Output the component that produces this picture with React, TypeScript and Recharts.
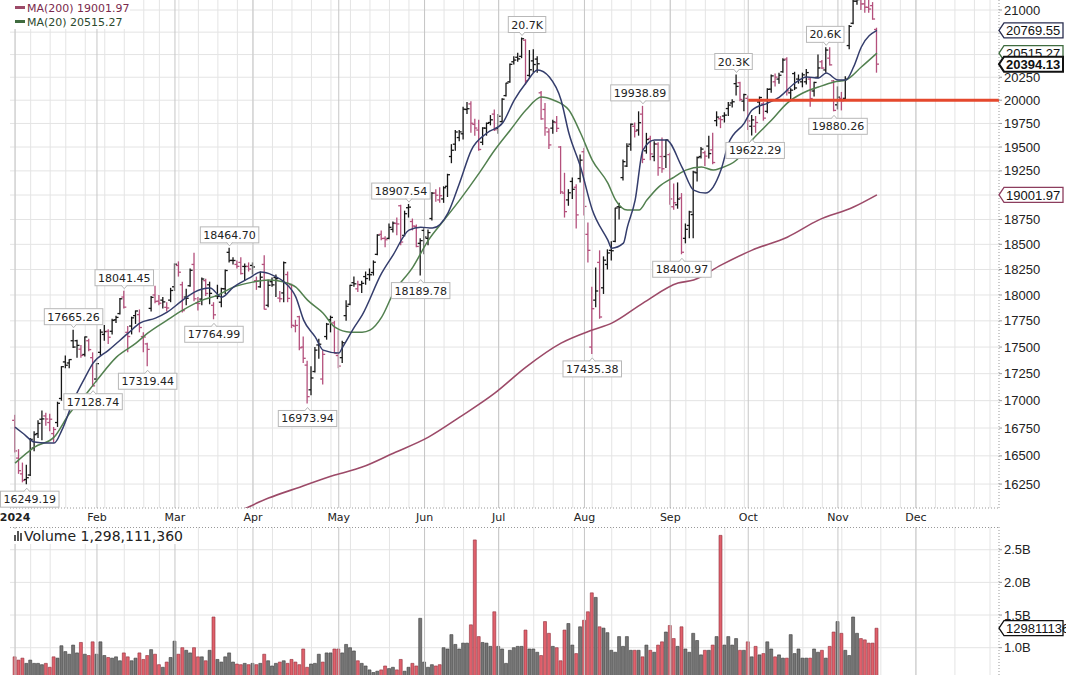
import React from 'react';
import { ComposedChart, Bar, Line, XAxis, YAxis, CartesianGrid, ReferenceLine, ReferenceDot, Cell } from 'recharts';

// x = trading-day index, 0 = Jan 2 2024
const monthStarts = [0, 21, 41, 61, 83, 105, 124, 146, 168, 188, 211, 231];
const monthLabels = ['2024', 'Feb', 'Mar', 'Apr', 'May', 'Jun', 'Jul', 'Aug', 'Sep', 'Oct', 'Nov', 'Dec'];
const weekStarts = [0, 4, 9, 13, 18, 23, 28, 33, 37, 42, 47, 52, 57, 61, 66, 71, 76, 81, 86, 91, 96, 101, 105, 110, 115, 119, 124, 128, 133, 138, 143, 148, 153, 158, 163, 168, 172, 177, 182, 187, 192, 197, 202, 207, 212, 217, 222, 227, 231, 236, 241, 246, 250];
const priceTicks = [16250, 16500, 16750, 17000, 17250, 17500, 17750, 18000, 18250, 18500, 18750, 19250, 19500, 19750, 20000, 20250, 21000];
const priceGrid = [16250, 16500, 16750, 17000, 17250, 17500, 17750, 18000, 18250, 18500, 18750, 19000, 19250, 19500, 19750, 20000, 20250, 20500, 20750, 21000];
const volumeTicks = [1000, 1500, 2000, 2500];
const volumeGrid = [500, 1000, 1500, 2000, 2500];

const opens = [
  16820, 16480, 16340, 16290, 16330, 16570, 16700, 16830, 16860, 16800,
  16700, 16800, 17020, 17360, 17350, 17560, 17560, 17480, 17430, 17560,
  17400, 17200, 17450, 17620, 17650, 17650, 17760, 17820, 17980, 17640,
  17700, 17800, 17810, 17600, 17530, 17870, 18000, 17940, 17950, 17880,
  17950, 18080, 18290, 18100, 17980, 18090, 18300, 17920, 17960, 18140,
  18100, 17900, 17990, 17930, 18060, 18420, 18340, 18300, 18320, 18280,
  18280, 18290, 18140, 18080, 18300, 17900, 18130, 18170, 17970, 18020,
  18200, 18100, 17700, 17790, 17500, 17330, 17100, 17270, 17520, 17200,
  17600, 17760, 17730, 17420, 17400, 17800, 17910, 18120, 18060, 18100,
  18180, 18200, 18220, 18400, 18600, 18560, 18560, 18650, 18710, 18890,
  18590, 18870, 18730, 18680, 18510, 18640, 18560, 18760, 19020, 18950,
  18960, 19090, 19400, 19530, 19600, 19640, 19900, 19960, 19740, 19680,
  19550, 19700, 19760, 19850, 19700, 19770, 20050, 20200, 20420, 20470,
  20480, 20660, 20270, 20430, 20450, 20080, 19900, 19660, 19700, 19760,
  19500, 19020, 18950, 19140, 19080, 19170, 19450, 18600, 17500, 17950,
  18320, 18070, 18300, 18440, 18530, 18880, 19180, 19300, 19530, 19720,
  19680, 19850, 19460, 19590, 19400, 19530, 19400, 19400, 19420, 18880,
  18900, 18970, 18560, 18690, 18800, 19230, 19400, 19440, 19510, 19470,
  19780, 19800, 19830, 19910, 19970, 20180, 20190, 19990, 20020, 19720,
  19720, 19980, 19960, 19880, 20120, 20200, 20230, 20310, 20450, 20080,
  20290, 20230, 20200, 20200, 20230, 20100, 20250, 20420, 20330, 20460,
  20210, 19950, 20020, 20020, 20600, 20850, 21100, 21150, 21070, 21030,
  21050, 20780,
];
const highs = [
  16870, 16560, 16440, 16420, 16660, 16720, 16820, 16910, 16890, 16880,
  16760, 16990, 17320, 17420, 17385, 17665, 17570, 17520, 17600, 17580,
  17450, 17350, 17670, 17710, 17670, 17770, 17800, 17970, 18041, 17700,
  17790, 17850, 17860, 17640, 17540, 17990, 18090, 18000, 17980, 17930,
  18070, 18310, 18330, 18130, 18060, 18260, 18416, 17980, 18170, 18160,
  18130, 17930, 18100, 18070, 18250, 18465, 18370, 18340, 18370, 18310,
  18320, 18320, 18180, 18230, 18390, 18150, 18170, 18200, 18040, 18330,
  18230, 18110, 17760, 17800, 17600, 17370, 17320, 17500, 17580, 17470,
  17730, 17800, 17750, 17660, 17560, 17950, 18100, 18180, 18140, 18140,
  18230, 18260, 18340, 18600, 18640, 18580, 18710, 18730, 18770, 18900,
  18840, 18908, 18760, 18700, 18560, 18670, 18650, 19030, 19060, 19080,
  19090, 19220, 19530, 19680, 19680, 19930, 19980, 19990, 19800, 19790,
  19710, 19760, 19840, 19900, 19850, 20020, 20190, 20400, 20480, 20520,
  20690, 20670, 20550, 20560, 20480, 20100, 19970, 19700, 19790, 19830,
  19510, 19230, 19060, 19180, 19110, 19420, 19490, 18720, 18080, 18270,
  18440, 18380, 18450, 18530, 18870, 18920, 19370, 19540, 19750, 19760,
  19880, 19939, 19650, 19620, 19560, 19550, 19600, 19580, 19440, 19120,
  19130, 19020, 18710, 18840, 19250, 19400, 19500, 19460, 19620, 19650,
  19880, 19830, 19870, 19980, 20010, 20280, 20200, 20070, 20050, 19840,
  19830, 20040, 19980, 20130, 20280, 20290, 20300, 20460, 20470, 20130,
  20310, 20280, 20300, 20340, 20250, 20200, 20500, 20440, 20580, 20580,
  20220, 20150, 20090, 20260, 20830, 21120, 21170, 21180, 21140, 21120,
  21090, 20800,
];
const lows = [
  16530, 16340, 16265, 16249, 16320, 16540, 16660, 16640, 16770, 16720,
  16620, 16760, 17000, 17300, 17300, 17490, 17400, 17400, 17410, 17460,
  17129, 17170, 17420, 17560, 17530, 17620, 17730, 17810, 17870, 17450,
  17620, 17720, 17640, 17450, 17319, 17840, 17920, 17900, 17870, 17840,
  17930, 18040, 18180, 17830, 17900, 18080, 17940, 17850, 17900, 17990,
  17910, 17765, 17960, 17880, 18010, 18320, 18300, 18260, 18200, 18140,
  18230, 18200, 18050, 18070, 17860, 17880, 18080, 17980, 17930, 17930,
  17930, 17680, 17640, 17470, 17350, 16974, 17050, 17260, 17390, 17150,
  17570, 17640, 17440, 17300, 17350, 17750, 17900, 18080, 18030, 18020,
  18100, 18140, 18190, 18390, 18540, 18470, 18550, 18620, 18590, 18490,
  18580, 18770, 18640, 18470, 18190, 18400, 18490, 18740, 18930, 18920,
  18920, 18980, 19330, 19460, 19560, 19580, 19850, 19650, 19620, 19460,
  19520, 19620, 19730, 19670, 19640, 19760, 20040, 20190, 20390, 20420,
  20460, 20170, 20250, 20300, 20300, 19790, 19620, 19480, 19640, 19660,
  19010, 18770, 18890, 18960, 18660, 19130, 18790, 18320, 17435, 17880,
  17770, 18010, 18250, 18340, 18520, 18750, 19150, 19290, 19460, 19600,
  19620, 19330, 19430, 19360, 19350, 19200, 19230, 19280, 18900, 18850,
  18860, 18401, 18510, 18560, 18560, 19140, 19380, 19300, 19380, 19320,
  19720, 19700, 19760, 19830, 19920, 20050, 19990, 19880, 19680, 19622,
  19650, 19850, 19780, 19860, 20080, 20150, 20180, 20300, 20050, 19990,
  20110, 20180, 20140, 20170, 19930, 20040, 20240, 20340, 20300, 20380,
  19880, 19900, 19890, 20010, 20560, 20840, 21060, 21000, 20970, 20970,
  20890, 20300,
];
const closes = [
  16544, 16368, 16282, 16306, 16648, 16690, 16792, 16833, 16832, 16830,
  16737, 16976, 17315, 17329, 17382, 17500, 17516, 17421, 17596, 17476,
  17137, 17344, 17642, 17647, 17593, 17754, 17783, 17963, 17882, 17600,
  17779, 17845, 17686, 17595, 17478, 17977, 17937, 17920, 17933, 17874,
  18044, 18302, 18223, 17848, 17968, 18242, 17963, 17917, 18156, 18015,
  18016, 17808, 17986, 18062, 18240, 18339, 18339, 18281, 18210, 18280,
  18254, 18275, 18137, 18174, 17862, 18095, 18099, 18160, 17963, 18317,
  17967, 17707, 17706, 17493, 17394, 17037, 17210, 17471, 17527, 17431,
  17718, 17783, 17440, 17321, 17541, 17891, 18094, 18109, 18102, 18114,
  18161, 18198, 18322, 18593, 18558, 18546, 18671, 18713, 18705, 18523,
  18809, 18876, 18684, 18479, 18537, 18573, 18618, 19019, 18998, 18993,
  19075, 19210, 19466, 19659, 19660, 19903, 19908, 19752, 19701, 19474,
  19701, 19751, 19789, 19683, 19827, 20011, 20186, 20392, 20439, 20452,
  20676, 20212, 20332, 20390, 20398, 19799, 19703, 19522, 19766, 19698,
  19032, 18830, 19023, 19059, 18797, 19362, 18883, 18440, 17867, 18039,
  17787, 18342, 18414, 18436, 18867, 18875, 19346, 19509, 19742, 19667,
  19758, 19370, 19579, 19427, 19532, 19283, 19272, 19575, 18960, 18921,
  18959, 18421, 18651, 18827, 19238, 19388, 19478, 19404, 19431, 19337,
  19818, 19791, 19839, 19947, 19983, 20150, 20008, 20061, 19777, 19788,
  19760, 20029, 19807, 20118, 20265, 20251, 20272, 20440, 20101, 20109,
  20133, 20225, 20276, 20301, 20018, 20193, 20352, 20351, 20550, 20386,
  19890, 20033, 19994, 20229, 20815, 21101, 21118, 21069, 21032, 21011,
  20898, 20394.13,
];
// volume in millions of shares
const volumes = [
  860, 810, 840, 760, 810, 760, 760, 740, 760, 700,
  860, 840, 1030, 940, 900, 1040, 920, 1080, 900, 880,
  1090, 900, 1090, 880, 850, 840, 860, 800, 920, 860,
  800, 840, 920, 820, 880, 970, 900, 740, 700, 780,
  850, 1100, 900, 1000, 960, 920, 1000, 860, 860, 800,
  960, 1470, 820, 780, 860, 920, 780, 750, 740, 760,
  740, 760, 740, 760, 900, 800, 720, 760, 780, 800,
  760, 820, 780, 740, 980, 700, 750, 760, 900, 780,
  920, 920, 980, 980, 920, 1050, 1000, 950, 800, 760,
  720, 660, 620, 640, 660, 720, 680, 700, 660, 820,
  640, 700, 760, 720, 1450, 780, 700, 740, 720, 740,
  1000, 980, 1200, 1050, 980, 1070, 1070, 1350, 2650, 1170,
  1080, 1070, 1020, 1550, 1020, 980, 760, 960, 1000, 1020,
  1020, 1270, 980, 980, 930, 880, 1400, 1220, 1020, 1000,
  800, 1270, 1370, 1040, 910, 1320, 1420, 1550, 1840, 1770,
  1320, 1300, 1230, 960, 930, 1170, 1020, 1170, 960, 960,
  960, 860, 1040, 960, 930, 1040, 1090, 1240, 1340, 1140,
  1020, 1320, 980, 930, 1220, 1110, 890, 960, 960, 1040,
  1170, 2720, 1040, 1170, 1040, 1140, 960, 960, 1090, 860,
  1020, 890, 910, 1090, 980, 860, 890, 840, 840, 1200,
  910, 980, 840, 840, 840, 980, 930, 960, 840, 1020,
  1240, 1400, 1220, 960, 880, 1470, 1220, 1140, 1120, 1070,
  1070, 1298.11136,
];

// moving averages at sample days
const ma10Idx = [0, 2, 5, 8, 10, 12, 15, 18, 20, 24, 29, 32, 36, 39, 43, 46, 50, 53, 56, 60, 63, 66, 69, 72, 74, 77, 79, 83, 84, 87, 89, 94, 97, 101, 104, 107, 111, 114, 117, 121, 125, 128, 131, 134, 137, 140, 142, 145, 148, 152, 153, 156, 157, 159, 161, 164, 167, 171, 174, 177, 179, 181, 183, 187, 189, 193, 196, 200, 203, 206, 208, 211, 213, 215, 217, 221];
const ma10Val = [16758, 16703, 16623, 16614, 16614, 16731, 17005, 17218, 17348, 17471, 17632, 17728, 17776, 17834, 17950, 18028, 18067, 17979, 18077, 18165, 18224, 18195, 18126, 17979, 17757, 17594, 17471, 17443, 17500, 17690, 17805, 18214, 18398, 18643, 18673, 18663, 18815, 19127, 19468, 19648, 19754, 20002, 20187, 20329, 20252, 20002, 19648, 19290, 18850, 18542, 18462, 18512, 18673, 18948, 19468, 19574, 19574, 19290, 19051, 19020, 19082, 19258, 19542, 19754, 19894, 19969, 20034, 20187, 20252, 20241, 20296, 20219, 20219, 20362, 20584, 20769.55];
const ma20Idx = [0, 5, 10, 14, 17, 21, 26, 31, 34, 39, 43, 48, 52, 56, 61, 65, 69, 72, 75, 79, 82, 86, 89, 91, 94, 97, 102, 106, 110, 114, 119, 123, 127, 131, 135, 138, 142, 145, 148, 152, 154, 157, 160, 162, 165, 169, 172, 176, 179, 181, 185, 189, 194, 198, 202, 206, 210, 213, 217, 221];
const ma20Val = [16435, 16578, 16668, 16885, 17005, 17190, 17405, 17537, 17632, 17757, 17853, 17950, 17999, 18077, 18126, 18146, 18126, 18077, 17950, 17824, 17690, 17642, 17642, 17661, 17786, 18018, 18274, 18542, 18744, 18948, 19227, 19468, 19680, 19894, 20034, 20002, 19894, 19648, 19363, 19123, 18948, 18846, 18846, 18948, 19082, 19186, 19258, 19290, 19258, 19279, 19363, 19574, 19786, 19969, 20078, 20143, 20198, 20219, 20362, 20515.27];
const ma200Idx = [58, 65, 73, 82, 89, 97, 106, 114, 123, 131, 140, 148, 153, 161, 170, 174, 181, 189, 198, 206, 215, 221];
const ma200Val = [16020, 16127, 16223, 16329, 16400, 16524, 16668, 16849, 17069, 17311, 17537, 17662, 17728, 17921, 18116, 18146, 18293, 18442, 18572, 18744, 18877, 19001.97];

// swing labels
const annIdx = [3, 15, 28, 20, 34, 55, 51, 75, 101, 104, 130, 161, 148, 171, 185, 189, 208, 210];
const annVal = [16249.19, 17665.26, 18041.45, 17128.74, 17319.44, 18464.7, 17764.99, 16973.94, 18907.54, 18189.78, 20690, 19938.89, 17435.38, 18400.97, 20280, 19622.29, 20580, 19880.26];
const annText = ['16249.19', '17665.26', '18041.45', '17128.74', '17319.44', '18464.70', '17764.99', '16973.94', '18907.54', '18189.78', '20.7K', '19938.89', '17435.38', '18400.97', '20.3K', '19622.29', '20.6K', '19880.26'];
const annBelow = [true, false, false, true, true, false, true, true, false, true, false, false, true, true, false, true, false, true];
const annDx = [3, 0, 0, 0, 0, 0, 0, 0, -8, 0, 5, -3, 0, 0, -3, 3, -1, 4];

// right-hand value tags
const tagValues = [19001.97, 20769.55, 20515.27, 20394.13];
const tagLabels = ['19001.97', '20769.55', '20515.27', '20394.13'];
const tagStroke = ['#8c3d5e', '#2a2e50', '#3f6b3f', '#111'];
const tagBold = [false, false, false, true];

const UP = '#161616';
const DOWN = '#b4507c';
const X_DOMAIN: [number, number] = [-1.3, 252.3];
const AXIS_FONT = 'Liberation Sans, Arial, sans-serif';
const LABEL_FONT = 'DejaVu Sans, Verdana, sans-serif';

const toMap = (idx: number[], val: number[]) => {
  const m: Record<number, number> = {};
  idx.forEach((k, j) => { m[k] = val[j]; });
  return m;
};
const m10 = toMap(ma10Idx, ma10Val);
const m20 = toMap(ma20Idx, ma20Val);
const m200 = toMap(ma200Idx, ma200Val);

const rows = closes.map((c, i) => ({
  i,
  o: opens[i],
  h: highs[i],
  l: lows[i],
  c,
  v: volumes[i],
  up: i === 0 ? c >= opens[i] : c >= closes[i - 1],
  ma10: m10[i] ?? null,
  ma20: m20[i] ?? null,
  ma200: m200[i] ?? null,
}));

const OhlcShape = (props: any) => {
  const { x, y, width, height, payload } = props;
  if (!payload || y == null || height == null) return null;
  const top = Math.min(y, y + height);
  const bot = Math.max(y, y + height);
  const lh = Math.log(payload.h);
  const ll = Math.log(payload.l);
  const pos = (v: number) => (lh === ll ? top : top + ((bot - top) * (lh - Math.log(v))) / (lh - ll));
  const cx = x + width / 2;
  return (
    <g stroke={payload.up ? UP : DOWN} strokeWidth={1.3}>
      <line x1={cx} x2={cx} y1={top} y2={bot} />
      <line x1={cx - 2.5} x2={cx} y1={pos(payload.o)} y2={pos(payload.o)} />
      <line x1={cx} x2={cx + 2.5} y1={pos(payload.c)} y2={pos(payload.c)} />
    </g>
  );
};

const MonthTick = (props: any) => {
  const { x, y, payload } = props;
  const k = monthStarts.indexOf(payload.value);
  return (
    <text x={x} y={y + 13} textAnchor="middle" fontSize={11} fontFamily={LABEL_FONT}
      fontWeight={k === 0 ? 'bold' : 'normal'} fill="#222">
      {monthLabels[k]}
    </text>
  );
};

const makeAnnotation = (text: string, below: boolean, dx: number) => (p: any) => {
  const { cx, cy } = p;
  const w = text.length * 7 - (text.includes('.') ? 3.5 : 0) + 6;
  const h = 16;
  const bx = cx + dx - w / 2;
  const by = below ? cy + 7 : cy - 5 - h;
  const notch = below
    ? `M${cx - 3},${by + 0.5} L${cx},${by - 3} L${cx + 3},${by + 0.5}`
    : `M${cx - 3},${by + h - 0.5} L${cx},${by + h + 3} L${cx + 3},${by + h - 0.5}`;
  return (
    <g>
      <rect x={bx} y={by} width={w} height={h} fill="#fff" stroke="#b8b8b8" />
      <path d={notch} fill="#fff" stroke="#b8b8b8" />
      <text x={bx + w / 2} y={by + 12} textAnchor="middle" fontSize={11} fontFamily={LABEL_FONT} fill="#222">
        {text}
      </text>
    </g>
  );
};

const makeTag = (label: string, stroke: string, bold: boolean) => (p: any) => {
  const { cx, cy } = p;
  const x0 = cx;
  return (
    <g>
      <path d={`M${x0},${cy} L${x0 + 5},${cy - 7.5} L${x0 + 64},${cy - 7.5} L${x0 + 64},${cy + 7.5} L${x0 + 5},${cy + 7.5} Z`}
        fill="#fff" stroke={stroke} strokeWidth={bold ? 2 : 1.3} />
      <text x={x0 + 7} y={cy + 5} fontSize={13} fontFamily={AXIS_FONT} fontWeight={bold ? 'bold' : 'normal'} fill="#111">
        {label}
      </text>
    </g>
  );
};

const PriceChart = () => (
  <ComposedChart width={1066} height={527} data={rows} margin={{ top: 0, right: 0, bottom: 0, left: 10 }}>
    <CartesianGrid stroke="#e4e4e4" verticalValues={weekStarts} horizontalValues={priceGrid} />
    {monthStarts.map((m) => (
      <ReferenceLine key={m} x={m} stroke="#c6c6c6" />
    ))}
    <XAxis dataKey="i" type="number" domain={X_DOMAIN} allowDataOverflow ticks={monthStarts} interval={0}
      tick={<MonthTick />} tickLine={false} tickSize={0} tickMargin={0} height={19}
      axisLine={{ stroke: '#999', strokeDasharray: '1 2' }} />
    <YAxis orientation="right" type="number" scale="log" domain={[16041, 21114]} allowDataOverflow
      ticks={priceTicks} interval={0} width={67} tickSize={3} tickMargin={2}
      tick={{ fill: '#222', fontSize: 13, fontFamily: AXIS_FONT }} tickLine={{ stroke: '#999' }}
      axisLine={{ stroke: '#999', strokeDasharray: '1 2' }} />
    <Line dataKey="ma200" type="monotone" stroke="#9c4a68" strokeWidth={1.6} dot={false} connectNulls isAnimationActive={false} />
    <Line dataKey="ma20" type="monotone" stroke="#52804f" strokeWidth={1.5} dot={false} connectNulls isAnimationActive={false} />
    <Line dataKey="ma10" type="monotone" stroke="#343d6c" strokeWidth={1.5} dot={false} connectNulls isAnimationActive={false} />
    <Bar dataKey={(d: any) => [d.l, d.h]} shape={OhlcShape} barSize={3} isAnimationActive={false} />
    <ReferenceLine segment={[{ x: 188, y: 20000 }, { x: X_DOMAIN[1], y: 20000 }]} stroke="#e5482d" strokeWidth={3} />
    {annIdx.map((k, j) => (
      <ReferenceDot key={`a${j}`} x={k} y={annVal[j]} r={2} ifOverflow="visible"
        shape={makeAnnotation(annText[j], annBelow[j], annDx[j])} />
    ))}
    {tagValues.map((v, j) => (
      <ReferenceDot key={`t${j}`} x={X_DOMAIN[1]} y={v} r={2} ifOverflow="visible"
        shape={makeTag(tagLabels[j], tagStroke[j], tagBold[j])} />
    ))}
  </ComposedChart>
);

const VolumeChart = () => (
  <ComposedChart width={1066} height={186} data={rows} margin={{ top: 0, right: 0, bottom: 0, left: 10 }}>
    <CartesianGrid stroke="#e4e4e4" verticalValues={weekStarts} horizontalValues={volumeGrid} />
    {monthStarts.map((m) => (
      <ReferenceLine key={m} x={m} stroke="#c6c6c6" />
    ))}
    <XAxis dataKey="i" type="number" domain={X_DOMAIN} allowDataOverflow hide />
    <YAxis orientation="right" type="number" domain={[0, 2848]} allowDataOverflow ticks={volumeTicks} interval={0}
      width={67} tickSize={3} tickMargin={2} tickFormatter={(v: number) => `${(v / 1000).toFixed(1)}B`}
      tick={{ fill: '#222', fontSize: 13, fontFamily: AXIS_FONT }} tickLine={{ stroke: '#999' }}
      axisLine={{ stroke: '#999', strokeDasharray: '1 2' }} />
    <Bar dataKey="v" barSize={3} isAnimationActive={false}>
      {rows.map((r) => (
        <Cell key={r.i} fill={r.up ? '#767676' : '#e0616c'} stroke={r.up ? '#3c3c3c' : '#8e2f3a'} strokeWidth={0.6} />
      ))}
    </Bar>
    <ReferenceDot x={X_DOMAIN[1]} y={volumes[volumes.length - 1]} r={2} ifOverflow="visible"
      shape={makeTag('1298111360', '#111', false)} />
  </ComposedChart>
);

export default function App() {
  return (
    <div style={{ position: 'absolute', top: 0, left: 0, width: 1066, height: 675, overflow: 'hidden', background: '#fff' }}>
      <div style={{ position: 'absolute', top: 0, left: 0 }}>
        <PriceChart />
      </div>
      <div style={{ position: 'absolute', top: 527, left: 0 }}>
        <VolumeChart />
      </div>
      <svg width={1066} height={675} style={{ position: 'absolute', top: 0, left: 0, pointerEvents: 'none' }}>
        <rect x={0} y={0} width={130} height={29} fill="#fff" />
        <line x1={15} x2={25} y1={7.5} y2={7.5} stroke="#9c4a68" strokeWidth={3} />
        <text x={27} y={11.5} fontSize={11} fontFamily={LABEL_FONT} fill="#7a2a4d">MA(200) 19001.97</text>
        <line x1={15} x2={25} y1={21.5} y2={21.5} stroke="#3f6b3f" strokeWidth={3} />
        <text x={27} y={25.5} fontSize={11} fontFamily={LABEL_FONT} fill="#2d4a2d">MA(20) 20515.27</text>
        <line x1={10} x2={999} y1={527.5} y2={527.5} stroke="#999" strokeDasharray="1 2" />
        <rect x={11} y={529} width={185} height={15} fill="#fff" />
        <rect x={14} y={535} width={2} height={6} fill="#555" />
        <rect x={17} y={531} width={2} height={10} fill="#555" />
        <rect x={20} y={533} width={2} height={8} fill="#555" />
        <text x={24} y={541} fontSize={14} fontFamily={LABEL_FONT} fill="#222">Volume 1,298,111,360</text>
      </svg>
    </div>
  );
}
